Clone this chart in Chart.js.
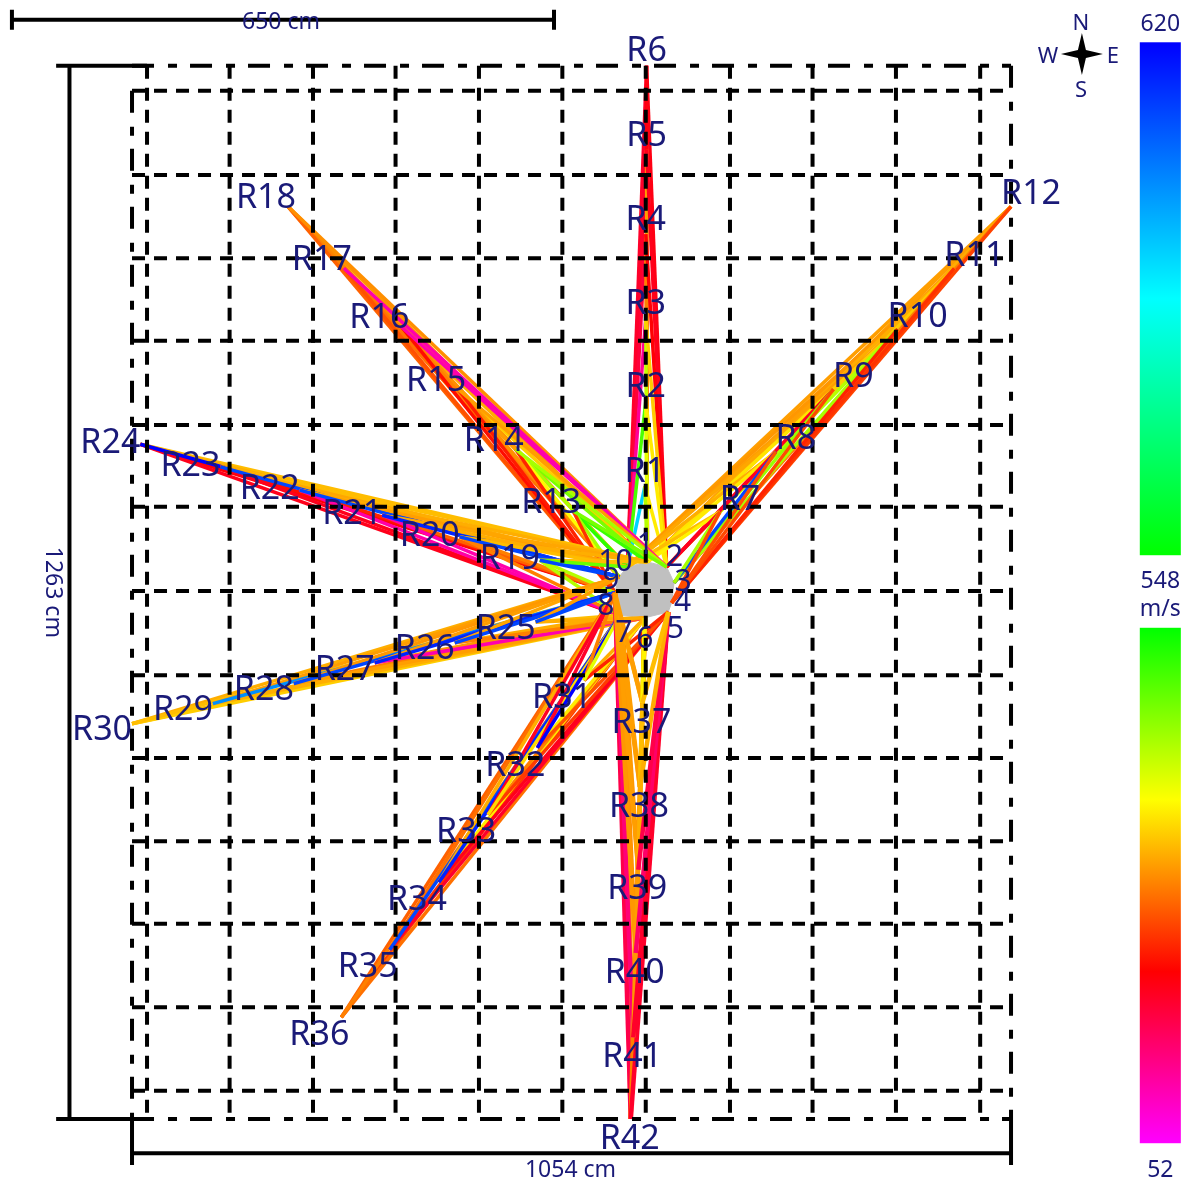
<!DOCTYPE html>
<html>
<head>
<meta charset="utf-8">
<title>Sonic tomography rays</title>
<script src="https://cdn.jsdelivr.net/npm/chart.js@4"></script>
<style>
  html, body { margin: 0; padding: 0; background: #fff; }
  canvas { display: block; }
</style>
</head>
<body>
<canvas id="chart" width="1187" height="1178"></canvas>
<script>
// Sensor positions in cm, origin at the lower left corner of the frame
const sourceX = [618, 641, 650, 647, 643, 615, 585, 579, 584, 594];
const sourceY = [668, 662, 643, 619, 608, 601, 604, 631, 650, 662];

const receiverX = [615, 616, 616, 616, 617, 617, 705, 772, 841, 918, 986, 1054,
  529, 460, 391, 323, 254, 187, 489, 393, 300, 201, 106, 10,
  484, 387, 291, 194, 97, 0, 542, 486, 427, 368, 309, 251,
  612, 609, 607, 604, 601, 598];
const receiverY = [759, 860, 960, 1061, 1162, 1263, 728, 800, 875, 947, 1020, 1094,
  729, 803, 875, 950, 1020, 1094, 670, 698, 724, 754, 782, 809,
  596, 571, 547, 522, 498, 474, 526, 445, 365, 284, 203, 122,
  499, 398, 299, 199, 98, 0];

// Velocities in m/s, one row per receiver, one column per source of the fan
const northSources = [10, 1, 2];
const northVelocity = [
  [590, 430, 370],
  [500, 400, 370],
  [120, 420, 350],
  [180, 300, 215],
  [190, 320, 200],
  [190, 210, 205]
];
const eastSources = [10, 1, 2, 3, 4];
const eastVelocity = [
  [340, 375, 195, 440, 265],
  [330, 370, 195, 610, 270],
  [325, 365, 195, 450, 265],
  [320, 350, 430, 440, 240],
  [315, 330, 350, 300, 250],
  [320, 320, 330, 300, 260]
];
const northWestSources = [1, 10, 9, 8, 2];
const northWestVelocity = [
  [510, 520, 440, 250, 470],
  [470, 440, 380, 240, 440],
  [350, 320, 310, 235, 320],
  [330, 310, 300, 225, 105],
  [320, 300, 290, 270, 105],
  [315, 305, 300, 280, 310]
];
const westSources = [1, 10, 8, 7, 9];
const westVelocity = [
  [340, 480, 430, 430, 610],
  [330, 340, 300, 300, 610],
  [325, 330, 280, 105, 615],
  [330, 320, 240, 110, 610],
  [340, 325, 225, 200, 610],
  [340, 330, 215, 200, 620]
];
const westSouthSources = [9, 7, 6, 8];
const westSouthVelocity = [
  [320, 340, 330, 610],
  [325, 330, 300, 610],
  [320, 315, 105, 615],
  [315, 300, 320, 610],
  [320, 330, 330, 600],
  [330, 340, 350, 340]
];
const southWestSources = [8, 6, 5, 7];
const southWestVelocity = [
  [300, 330, 240, 400],
  [190, 370, 270, 620],
  [195, 300, 255, 360],
  [330, 370, 200, 615],
  [290, 250, 190, 610],
  [280, 260, 290, 300]
];
const southSources = [7, 8, 6, 5];
const southVelocity = [
  [330, 320, 375, 340],
  [320, 320, 340, 330],
  [315, 320, 330, 170],
  [310, 315, 320, 150],
  [315, 140, 315, 190],
  [310, 170, 300, 190]
];

// Grid lines and frame in cm
const gridX = [18, 117, 217, 316, 416, 516, 616, 717, 816, 916, 1017];
const gridY = [34, 134, 234, 333, 433, 532, 633, 734, 832, 933, 1032, 1132, 1233];
const frameWidth = 1054;
const frameHeight = 1263;
const spanWidth = 650;

// Colour scale ticks in m/s
const scaleMax = 620;
const scaleMid = 548;
const scaleMin = 52;

// Hue runs blue to green over the upper bar, green to magenta over the lower one
function velocityColour(v) {
  let hue = v >= scaleMid
    ? 120 + (v - scaleMid) / (scaleMax - scaleMid) * 120
    : 120 - (scaleMid - v) / (scaleMid - scaleMin) * 180;
  return `hsl(${(hue + 360) % 360}, 100%, 50%)`;
}

const fans = [
  { first: 0, sources: northSources, velocity: northVelocity, dx: 0, dy: -17, width: 3.5 },
  { first: 6, sources: eastSources, velocity: eastVelocity, dx: 20, dy: -15, width: 3.5 },
  { first: 12, sources: northWestSources, velocity: northWestVelocity, dx: -22, dy: -11, width: 3.5 },
  { first: 18, sources: westSources, velocity: westVelocity, dx: -30, dy: -4, width: 3.5 },
  { first: 24, sources: westSouthSources, velocity: westSouthVelocity, dx: -30, dy: 4, width: 3.5 },
  { first: 30, sources: southWestSources, velocity: southWestVelocity, dx: -22, dy: 15, width: 3.5 },
  { first: 36, sources: southSources, velocity: southVelocity, dx: -1, dy: 17, width: 4.5 }
];

const sourceLabelOffset = [[-2, -19], [8, -12], [9, -3], [11, -3], [7, 15], [0, 19], [4, 15], [-9, 11], [-8, 1], [-12, -7]];

const datasets = [];

function line(points, style) {
  datasets.push(Object.assign({
    data: points.map(p => ({ x: p[0], y: p[1] })),
    showLine: true,
    pointRadius: 0,
    tension: 0,
    borderColor: '#000',
    borderWidth: 4,
    fill: false,
    order: 0
  }, style));
}

// Rays, far receivers first so the near ones stay visible at the stem
let rayOrder = 5000;
fans.forEach(fan => {
  for (let r = fan.velocity.length - 1; r >= 0; r--) {
    fan.velocity[r].forEach((v, c) => {
      const s = fan.sources[c] - 1;
      const t = fan.first + r;
      line([[sourceX[s], sourceY[s]], [receiverX[t], receiverY[t]]], {
        borderColor: velocityColour(v),
        borderWidth: fan.width,
        order: rayOrder--
      });
    });
  }
});

// Stem of the tree
const stem = sourceX.map((x, i) => [x, sourceY[i]]);
stem.push(stem[0]);
line(stem, { borderColor: '#c0c0c0', backgroundColor: '#c0c0c0', borderWidth: 1, fill: 'shape', order: 9000 });

// Grid
const gridDash = [13, 9];
const frameDash = [22, 14, 9, 13];
gridX.forEach(x => line([[x, frameHeight], [x, 0]], { borderWidth: 4, borderDash: gridDash }));
gridY.forEach(y => line([[0, y], [frameWidth, y]], { borderWidth: 4, borderDash: gridDash }));
line([[0, frameHeight], [frameWidth, frameHeight]], { borderWidth: 4, borderDash: frameDash });
line([[0, 0], [frameWidth, 0]], { borderWidth: 4, borderDash: frameDash });
line([[0, frameHeight - 30], [0, 0]], { borderWidth: 4, borderDash: frameDash });
line([[frameWidth, frameHeight], [frameWidth, 0]], { borderWidth: 4, borderDash: frameDash });

// Dimension lines
line([[-144, 1318], [-144 + spanWidth, 1318]], {});
line([[-144, 1330], [-144, 1306]], {});
line([[-144 + spanWidth, 1330], [-144 + spanWidth, 1306]], {});
line([[-75, 0], [-75, frameHeight]], {});
line([[-91, frameHeight], [18, frameHeight]], {});
line([[-91, 0], [0, 0]], {});
line([[0, -41], [frameWidth, -41]], {});
line([[0, 0], [0, -55]], {});
line([[frameWidth, 0], [frameWidth, -55]], {});

const barX = 1233;
const barHalfWidth = 24.6;
const upperBarStops = [620, 602, 584, 566, 548];
const lowerBarStops = [548, 465, 383, 300, 217, 135, 52];

const textColour = '#1a1a78';
const fontFamily = '"Noto Sans", sans-serif';

// Colour bars, text and compass, placed through the scales
const annotations = {
  id: 'annotations',
  afterDatasetsDraw(chart) {
    const { ctx, scales } = chart;
    const px = v => scales.x.getPixelForValue(v);
    const py = v => scales.y.getPixelForValue(v);

    function text(str, x, y, size, rotation) {
      ctx.save();
      ctx.translate(x, y);
      if (rotation) ctx.rotate(rotation);
      ctx.font = `${size}px ${fontFamily}`;
      ctx.fillText(str, 0, rotation ? 0 : 3);
      ctx.restore();
    }

    function colourBar(top, bottom, stops) {
      const g = ctx.createLinearGradient(0, py(top), 0, py(bottom));
      stops.forEach((v, i) => g.addColorStop(i / (stops.length - 1), velocityColour(v)));
      ctx.fillStyle = g;
      ctx.fillRect(px(barX - barHalfWidth), py(top), px(barX + barHalfWidth) - px(barX - barHalfWidth), py(bottom) - py(top));
    }

    ctx.save();
    colourBar(1291, 676, upperBarStops);
    colourBar(589, -29, lowerBarStops);

    ctx.fillStyle = textColour;
    ctx.textAlign = 'center';
    ctx.textBaseline = 'middle';

    fans.forEach(fan => {
      fan.velocity.forEach((row, r) => {
        const t = fan.first + r;
        text('R' + (t + 1), px(receiverX[t]) + fan.dx, py(receiverY[t]) + fan.dy, 34);
      });
    });
    sourceX.forEach((x, i) => {
      const off = sourceLabelOffset[i];
      text(String(i + 1), px(x) + off[0], py(sourceY[i]) + off[1], 30);
    });

    text(spanWidth + ' cm', px(-144 + spanWidth / 2) - 2, py(1318), 23);
    text(frameHeight + ' cm', px(-75) - 17, py(frameHeight / 2) + 0, 23, Math.PI / 2);
    text(frameWidth + ' cm', px(frameWidth / 2) - 1, py(-41) + 14, 23);

    const barPx = px(barX);
    text(String(scaleMax), barPx, py(1291) - 21, 23);
    text(String(scaleMid), barPx, py(676) + 23, 23);
    text('m/s', barPx, py(676) + 51, 23);
    text(String(scaleMin), barPx, py(-29) + 24, 23);

    // Compass
    const cx = px(1139);
    const cy = py(1277);
    text('N', cx - 1, cy - 33, 22);
    text('S', cx - 1, cy + 34, 22);
    text('W', cx - 34, cy, 22);
    text('E', cx + 31, cy, 22);
    ctx.fillStyle = '#000';
    ctx.beginPath();
    ctx.moveTo(cx, cy - 21);
    ctx.lineTo(cx + 4, cy - 4);
    ctx.lineTo(cx + 21, cy);
    ctx.lineTo(cx + 4, cy + 4);
    ctx.lineTo(cx, cy + 21);
    ctx.lineTo(cx - 4, cy + 4);
    ctx.lineTo(cx - 21, cy);
    ctx.lineTo(cx - 4, cy - 4);
    ctx.closePath();
    ctx.fill();
    ctx.restore();
  }
};

new Chart(document.getElementById('chart'), {
  type: 'scatter',
  data: { datasets: datasets },
  plugins: [annotations],
  options: {
    responsive: false,
    animation: false,
    layout: { padding: 0 },
    plugins: { legend: { display: false }, tooltip: { enabled: false } },
    scales: {
      x: { type: 'linear', display: false, min: -158.3, max: 1265 },
      y: { type: 'linear', display: false, min: -70.7, max: 1341.7 }
    }
  }
});
</script>
</body>
</html>
